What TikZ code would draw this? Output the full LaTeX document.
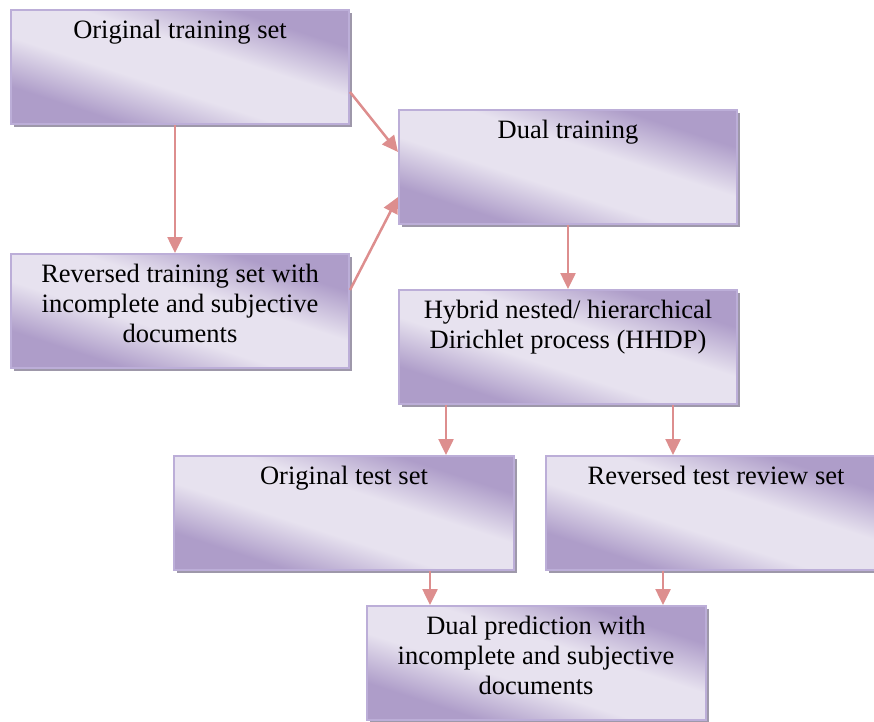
\documentclass[tikz,border=0pt]{standalone}
\usepackage{fontspec}
\setmainfont{Liberation Serif}
\usetikzlibrary{arrows.meta,shadows}
\definecolor{boxdark}{RGB}{174,157,201}
\definecolor{boxlight}{RGB}{231,226,239}
\definecolor{boxline}{RGB}{188,174,216}
\definecolor{boxshadow}{RGB}{158,152,170}
\definecolor{arrowpink}{RGB}{221,142,142}
\pgfdeclareverticalshading{boxshading}{100bp}{color(0bp)=(boxdark); color(29bp)=(boxdark); color(43bp)=(boxlight); color(57bp)=(boxlight); color(71bp)=(boxdark); color(100bp)=(boxdark)}
\tikzset{
	flowbox/.style={rectangle, draw=boxline, line width=2pt, shading=boxshading, shading angle=-18,
		minimum width=338pt, minimum height=114pt,
		drop shadow={shadow xshift=3pt, shadow yshift=-3pt, fill=boxshadow, opacity=1}},
	boxtext/.style={anchor=north, align=center, inner xsep=4pt, inner ysep=11pt, font=\fontsize{26.5}{30}\selectfont},
	flowarrow/.style={draw=arrowpink, line width=2.5pt, -{Triangle[length=16pt,width=15pt]}}
}
\begin{document}
\begin{tikzpicture}[x=1pt,y=-1pt]
	\clip (0,0) rectangle (874,721);
	% training side
	\node[flowbox, label={[boxtext]north:Original training set}] (origtrain) at (180,67) {};
	\node[flowbox, label={[boxtext]north:{Reversed training set with\\incomplete and subjective\\documents}}] (revtrain) at (180,311) {};
	\node[flowbox, label={[boxtext]north:Dual training}] (dualtrain) at (568,167) {};
	\node[flowbox, label={[boxtext]north:{Hybrid nested/ hierarchical\\Dirichlet process (HHDP)}}] (hhdp) at (568,347) {};
	% test side
	\node[flowbox, minimum width=340pt, label={[boxtext]north:Original test set}] (origtest) at (344,513) {};
	\node[flowbox, minimum width=340pt, label={[boxtext]north:Reversed test review set}] (revtest) at (716,513) {};
	\node[flowbox, minimum width=339pt, label={[boxtext]north:{Dual prediction with\\incomplete and subjective\\documents}}] (dualpred) at (536,663) {};
	% connectors
	\draw[flowarrow] ([xshift=-5pt]origtrain.south) -- ([xshift=-5pt]revtrain.north);
	\draw[flowarrow] ([yshift=-25pt]origtrain.east) -- ([yshift=15pt]dualtrain.west);
	\draw[flowarrow] ([yshift=21pt]revtrain.east) -- ([yshift=-30pt]dualtrain.west);
	\draw[flowarrow] (dualtrain.south) -- (hhdp.north);
	\draw[flowarrow] ([xshift=-122pt]hhdp.south) -- ([xshift=102pt]origtest.north);
	\draw[flowarrow] ([xshift=105pt]hhdp.south) -- ([xshift=-43pt]revtest.north);
	\draw[flowarrow] ([xshift=86pt]origtest.south) -- ([xshift=-106pt]dualpred.north);
	\draw[flowarrow] ([xshift=-53pt]revtest.south) -- ([xshift=127pt]dualpred.north);
\end{tikzpicture}
\end{document}
